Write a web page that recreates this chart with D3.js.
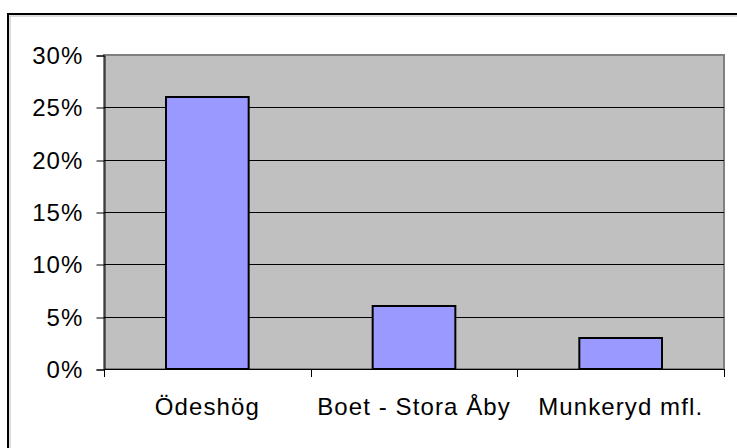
<!DOCTYPE html>
<html>
<head>
<meta charset="utf-8">
<script src="https://cdn.jsdelivr.net/npm/d3@7"></script>
<style>
  body { margin: 0; background: #fff; }
  svg { display: block; }
  text { font-family: "Liberation Sans", Arial, sans-serif; fill: #000; letter-spacing: 1.1px; }
</style>
</head>
<body>
<div id="chart"></div>
<script>
// data
var categories = ["Ödeshög", "Boet - Stora Åby", "Munkeryd mfl."];
var shares = [0.26, 0.06, 0.03];
var yTicks = [0, 0.05, 0.10, 0.15, 0.20, 0.25, 0.30];

var svgWidth = 737;
var svgHeight = 448;

var plot = { left: 104, right: 724, top: 55, bottom: 369 };

var svg = d3.select("#chart")
    .append("svg")
    .attr("width", svgWidth)
    .attr("height", svgHeight);

// outer chart frame (right & bottom edges fall outside the picture)
svg.append("rect")
    .attr("x", 10).attr("y", 16)
    .attr("width", 800).attr("height", 500)
    .attr("fill", "none")
    .attr("stroke", "#bbb")
    .attr("stroke-width", 1);
svg.append("rect")
    .attr("x", 8).attr("y", 14)
    .attr("width", 800).attr("height", 500)
    .attr("fill", "none")
    .attr("stroke", "#000")
    .attr("stroke-width", 2);

// scales
var y = d3.scaleLinear()
    .domain([0, 0.3])
    .rangeRound([plot.bottom, plot.top]);

var xOuter = d3.scaleBand()
    .domain(categories)
    .range([plot.left, plot.right])
    .padding(0);

var x = d3.scaleBand()
    .domain(categories)
    .range([plot.left, plot.right])
    .paddingInner(0.6)
    .paddingOuter(0.3);

// plot area
svg.append("rect")
    .attr("x", plot.left)
    .attr("y", plot.top)
    .attr("width", plot.right - plot.left)
    .attr("height", plot.bottom - plot.top)
    .attr("fill", "#c0c0c0")
    .attr("stroke", "#808080")
    .attr("stroke-width", 2);

// gridlines
svg.append("g")
    .selectAll("line")
    .data(yTicks.slice(1, -1))
    .enter()
    .append("line")
    .attr("x1", plot.left)
    .attr("x2", plot.right)
    .attr("y1", d => y(d) + 0.5)
    .attr("y2", d => y(d) + 0.5)
    .attr("stroke", "#000")
    .attr("stroke-width", 1);

// bars
svg.append("g")
    .selectAll("rect")
    .data(shares)
    .enter()
    .append("rect")
    .attr("x", (d, i) => x(categories[i]))
    .attr("y", d => y(d))
    .attr("width", x.bandwidth())
    .attr("height", d => y(0) - y(d))
    .attr("fill", "#9999ff")
    .attr("stroke", "#000")
    .attr("stroke-width", 2);

// y axis
var leftAxis = d3.axisLeft(y)
    .tickValues(yTicks)
    .tickSize(8)
    .tickPadding(13)
    .tickFormat(d3.format(".0%"));

var yAxis = svg.append("g")
    .attr("transform", `translate(${plot.left + 0.5}, 0.5)`)
    .call(leftAxis);
yAxis.selectAll("text")
    .attr("font-size", "24px")
    .attr("font-family", "'Liberation Sans', Arial, sans-serif")
    .attr("dy", "0.34em");
yAxis.selectAll("line, path").attr("stroke", "#000");

// x axis line and boundary ticks
var xAxis = svg.append("g");
xAxis.append("line")
    .attr("x1", plot.left)
    .attr("x2", plot.right + 1)
    .attr("y1", plot.bottom + 0.5)
    .attr("y2", plot.bottom + 0.5)
    .attr("stroke", "#000");
var bounds = categories.map(c => xOuter(c)).concat([plot.right]);
xAxis.selectAll(".tick")
    .data(bounds)
    .enter()
    .append("line")
    .attr("x1", d => Math.round(d) + 0.5)
    .attr("x2", d => Math.round(d) + 0.5)
    .attr("y1", plot.bottom)
    .attr("y2", plot.bottom + 8)
    .attr("stroke", "#000");

// category labels
xAxis.selectAll("text")
    .data(categories)
    .enter()
    .append("text")
    .attr("x", d => xOuter(d) + xOuter.bandwidth() / 2)
    .attr("y", 415)
    .attr("text-anchor", "middle")
    .attr("font-size", "24px")
    .text(d => d);
</script>
</body>
</html>
